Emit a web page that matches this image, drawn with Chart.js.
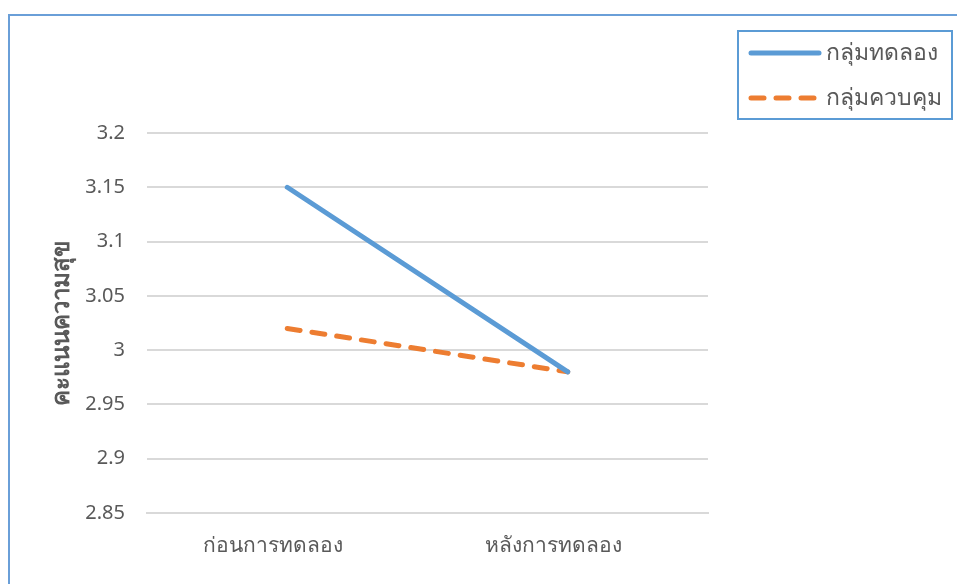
<!DOCTYPE html>
<html>
<head>
<meta charset="utf-8">
<script src="https://cdn.jsdelivr.net/npm/chart.js@4/dist/chart.umd.min.js"></script>
<style>
  html, body { margin: 0; padding: 0; background: #fff; }
  #wrap { width: 957px; height: 584px; }
</style>
</head>
<body>
<div id="wrap"><canvas id="happyChart" width="957" height="584"></canvas></div>
<script>
// ข้อมูลคะแนนความสุข
var categories = ['ก่อนการทดลอง', 'หลังการทดลอง'];
var seriesNames = ['กลุ่มทดลอง', 'กลุ่มควบคุม'];
var experimentValues = [3.15, 2.98];
var controlValues = [3.02, 2.98];
var yTicks = [2.85, 2.9, 2.95, 3, 3.05, 3.1, 3.15, 3.2];
var yTitle = 'คะแนนความสุข';

var FONT = '"Noto Sans", sans-serif';
var TEXT = '#595959';

// กรอบรอบนอก + legend แบบมีกรอบ
var framePlugin = {
  id: 'frameLegend',
  afterDraw: function(chart) {
    var ctx = chart.ctx;
    ctx.save();
    ctx.strokeStyle = '#6a9fd8';
    ctx.lineWidth = 2;
    ctx.beginPath();
    ctx.moveTo(9, chart.height);
    ctx.lineTo(9, 15);
    ctx.lineTo(chart.width, 15);
    ctx.stroke();

    // legend box
    ctx.strokeStyle = '#5b9bd5';
    ctx.strokeRect(738, 31, 214, 88);
    ctx.font = '23px ' + FONT;
    ctx.textBaseline = 'middle';
    chart.data.datasets.forEach(function(ds, i) {
      var y = 53 + i * 45;
      ctx.strokeStyle = ds.borderColor;
      ctx.lineWidth = ds.borderWidth;
      ctx.lineCap = 'round';
      ctx.setLineDash(ds.borderDash || []);
      ctx.beginPath();
      ctx.moveTo(751, y);
      ctx.lineTo(819, y);
      ctx.stroke();
      ctx.setLineDash([]);
      ctx.fillStyle = TEXT;
      ctx.fillText(ds.label, 826, y);
    });
    ctx.restore();
  }
};

new Chart(document.getElementById('happyChart'), {
  type: 'line',
  data: {
    labels: categories,
    datasets: [
      {
        label: seriesNames[0],
        data: experimentValues,
        borderColor: '#5b9bd5',
        borderWidth: 5,
        borderCapStyle: 'round',
        pointRadius: 0,
        tension: 0
      },
      {
        label: seriesNames[1],
        data: controlValues,
        borderColor: '#ed7d31',
        borderWidth: 5,
        borderDash: [13, 12],
        borderCapStyle: 'round',
        pointRadius: 0,
        tension: 0
      }
    ]
  },
  options: {
    responsive: false,
    animation: false,
    layout: { padding: { top: 133, right: 249, bottom: 0, left: 0 } },
    plugins: {
      legend: { display: false },
      tooltip: { enabled: false }
    },
    scales: {
      x: {
        offset: true,
        grid: { display: false, drawTicks: false },
        border: { color: '#d9d9d9', width: 2 },
        ticks: { color: TEXT, font: { family: FONT, size: 21 }, padding: 20, labelOffset: -14 },
        afterFit: function(s) { s.height = 71; }
      },
      y: {
        min: 2.85,
        max: 3.2,
        afterBuildTicks: function(s) { s.ticks = yTicks.map(function(v) { return { value: v }; }); },
        grid: { color: '#d9d9d9', lineWidth: 2, drawTicks: false },
        border: { display: false },
        ticks: {
          color: TEXT,
          font: { family: FONT, size: 20 },
          padding: 22,
          callback: function(v) { return String(v); }
        },
        title: {
          display: true,
          text: yTitle,
          color: TEXT,
          font: { family: FONT, size: 24, weight: 'bold' },
          padding: { top: 48, bottom: 0 }
        },
        afterFit: function(s) { s.width = 147; }
      }
    }
  },
  plugins: [framePlugin]
});
</script>
</body>
</html>
